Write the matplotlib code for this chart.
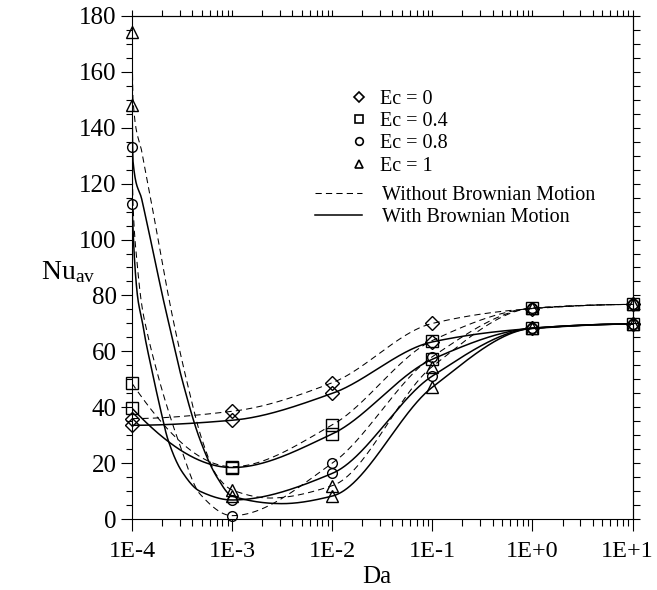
import numpy as np
import matplotlib
matplotlib.use("Agg")
import matplotlib.pyplot as plt
from matplotlib.lines import Line2D
from matplotlib.transforms import ScaledTranslation
from matplotlib.ticker import FixedLocator, MultipleLocator, NullFormatter, NullLocator

plt.rcParams['font.family'] = ['Liberation Serif', 'DejaVu Serif']
plt.rcParams['mathtext.fontset'] = 'custom'
plt.rcParams['mathtext.rm'] = 'Liberation Serif'
plt.rcParams['mathtext.it'] = 'Liberation Serif:italic'

# ---------------- data ----------------
da_ticks = [1e-4, 1e-3, 1e-2, 1e-1, 1e0, 1e1]
da_tick_labels = ['1E-4', '1E-3', '1E-2', '1E-1', '1E+0', '1E+1']
ec_labels = ['Ec = 0', 'Ec = 0.4', 'Ec = 0.8', 'Ec = 1']
ec_markers = ['D', 's', 'o', '^']
line_labels = ['Without Brownian Motion', 'With Brownian Motion']

# marker values at each Da (without / with Brownian motion)
nu_without_ec0 = [36.0, 38.6, 48.8, 70.0, 75.3, 76.8]
nu_with_ec0 = [33.6, 35.4, 45.0, 63.4, 68.2, 69.8]
nu_without_ec04 = [48.6, 18.8, 33.7, 63.9, 75.4, 76.8]
nu_with_ec04 = [39.7, 18.5, 30.5, 57.2, 68.3, 69.8]
nu_without_ec08 = [132.9, 1.3, 20.0, 58.1, 75.5, 76.8]
nu_with_ec08 = [112.7, 6.9, 16.4, 51.2, 68.3, 69.8]
nu_without_ec1 = [174.0, 10.5, 12.0, 54.6, 75.5, 76.8]
nu_with_ec1 = [148.1, 8.3, 8.3, 47.2, 68.3, 69.8]

# curve traces (log10 Da, Nu)
curve_logda_without_ec0 = [-4, -3, -2, -1, 0, 1]
curve_nu_without_ec0 = [36.0, 38.6, 48.8, 70.0, 75.3, 76.8]
curve_logda_with_ec0 = [-4, -3, -2, -1, 0, 1]
curve_nu_with_ec0 = [33.6, 35.4, 45.0, 63.4, 68.2, 69.8]

curve_logda_without_ec04 = [-4, -3, -2, -1, 0, 1]
curve_nu_without_ec04 = [48.6, 18.8, 33.7, 63.9, 75.4, 76.8]
curve_logda_with_ec04 = [-4, -3, -2, -1, 0, 1]
curve_nu_with_ec04 = [39.7, 18.5, 30.5, 57.2, 68.3, 69.8]

curve_logda_without_ec08 = [-4, -3.99, -3.95, -3.90, -3.85, -3.76, -3.67, -3.54, -3.32, -3.0, -2, -1, 0, 1]
curve_nu_without_ec08 = [132.9, 113.0, 92.0, 76.0, 67.0, 54.0, 42.6, 28.4, 9.0, 1.3, 20.0, 58.1, 75.5, 76.8]
curve_logda_with_ec08 = [-4, -3.97, -3.94, -3.90, -3.87, -3.80, -3.72, -3.64, -3.5, -3.32, -3.0, -2, -1, 0, 1]
curve_nu_with_ec08 = [112.7, 90.0, 78.4, 71.2, 65.0, 53.0, 40.0, 28.4, 17.0, 10.0, 6.9, 16.4, 51.2, 68.3, 69.8]

curve_logda_without_ec1 = [-4, -3.99, -3.90, -3.80, -3.70, -3.59, -3.45, -3.30, -3.15, -3.0, -2.62, -2, -1, 0, 1]
curve_nu_without_ec1 = [174.0, 150.0, 131.0, 112.0, 92.0, 71.5, 49.0, 28.4, 15.5, 10.5, 7.6, 12.0, 54.6, 75.5, 76.8]
curve_logda_with_ec1 = [-4, -3.99, -3.90, -3.80, -3.69, -3.64, -3.50, -3.32, -3.15, -3.0, -2.5, -2, -1, 0, 1]
curve_nu_with_ec1 = [148.1, 128.0, 114.0, 97.5, 79.0, 71.2, 50.0, 28.4, 15.0, 8.3, 5.6, 8.3, 47.2, 68.3, 69.8]


def pchip(x, y, xn):
    x = np.asarray(x, float)
    y = np.asarray(y, float)
    h = np.diff(x)
    d = np.diff(y) / h
    n = len(x)
    m = np.zeros(n)
    for k in range(1, n - 1):
        if d[k - 1] * d[k] > 0:
            w1 = 2 * h[k] + h[k - 1]
            w2 = h[k] + 2 * h[k - 1]
            m[k] = (w1 + w2) / (w1 / d[k - 1] + w2 / d[k])

    def end(h0, h1, d0, d1):
        s = ((2 * h0 + h1) * d0 - h0 * d1) / (h0 + h1)
        if np.sign(s) != np.sign(d0):
            s = 0.0
        elif np.sign(d0) != np.sign(d1) and abs(s) > abs(3 * d0):
            s = 3 * d0
        return s

    m[0] = end(h[0], h[1], d[0], d[1])
    m[-1] = end(h[-1], h[-2], d[-1], d[-2])
    idx = np.clip(np.searchsorted(x, xn) - 1, 0, n - 2)
    t = (xn - x[idx]) / h[idx]
    h00 = 2 * t**3 - 3 * t**2 + 1
    h10 = t**3 - 2 * t**2 + t
    h01 = -2 * t**3 + 3 * t**2
    h11 = t**3 - t**2
    return (h00 * y[idx] + h10 * h[idx] * m[idx] + h01 * y[idx + 1] + h11 * h[idx] * m[idx + 1])


markers_without = [nu_without_ec0, nu_without_ec04, nu_without_ec08, nu_without_ec1]
markers_with = [nu_with_ec0, nu_with_ec04, nu_with_ec08, nu_with_ec1]
curves_without = [(curve_logda_without_ec0, curve_nu_without_ec0),
                  (curve_logda_without_ec04, curve_nu_without_ec04),
                  (curve_logda_without_ec08, curve_nu_without_ec08),
                  (curve_logda_without_ec1, curve_nu_without_ec1)]
curves_with = [(curve_logda_with_ec0, curve_nu_with_ec0),
               (curve_logda_with_ec04, curve_nu_with_ec04),
               (curve_logda_with_ec08, curve_nu_with_ec08),
               (curve_logda_with_ec1, curve_nu_with_ec1)]

W, H = 657, 590
fig = plt.figure(figsize=(W / 100, H / 100), dpi=100)
x0, x1, y0, y1 = 132, 632.5, 519.3, 15.7
ax = fig.add_axes([x0 / W, (H - y0) / H, (x1 - x0) / W, (y0 - y1) / H])
ax.set_xscale('log')
ax.set_xlim(1e-4, 1e1)
ax.set_ylim(0, 180)

dash = (0, (6, 4))
for (lx, ly) in curves_without:
    xs = np.linspace(lx[0], lx[-1], 1500)
    ax.plot(10**xs, pchip(lx, ly, xs), color='black', lw=0.75, linestyle=dash)
for (lx, ly) in curves_with:
    xs = np.linspace(lx[0], lx[-1], 1500)
    ax.plot(10**xs, pchip(lx, ly, xs), color='black', lw=1.1, linestyle='-')

msizes = {'D': 7.5, 's': 8.5, 'o': 7.0, '^': 8.5}
for mk, a, b in zip(ec_markers, markers_without, markers_with):
    for vals in (a, b):
        ax.plot(da_ticks, vals, linestyle='none', marker=mk, ms=msizes[mk],
                mfc='none', mec='black', mew=1.0, zorder=5, clip_on=False)

# axes / ticks
for sp in ax.spines.values():
    sp.set_linewidth(0.8)
ax.xaxis.set_major_locator(FixedLocator(da_ticks))
ax.set_xticklabels(da_tick_labels)
minor_x = [m * 10.0**e for e in range(-4, 1) for m in range(2, 10)]
ax.xaxis.set_minor_locator(FixedLocator(minor_x))
ax.xaxis.set_minor_formatter(NullFormatter())
ax.yaxis.set_major_locator(MultipleLocator(20))
ax.yaxis.set_minor_locator(MultipleLocator(5))
ax.tick_params(axis='x', which='major', direction='out', length=8.5, width=0.8,
               pad=7, labelsize=17.5)
ax.tick_params(axis='x', which='minor', direction='out', length=5, width=0.8)
ax.tick_params(axis='y', which='major', direction='out', length=8, width=0.8,
               pad=3, labelsize=18)
ax.tick_params(axis='y', which='minor', direction='out', length=4.5, width=0.8)
last = ax.get_xticklabels()[-1]
last.set_transform(last.get_transform() + ScaledTranslation(-5 / 100, 0, fig.dpi_scale_trans))

secx = ax.secondary_xaxis('top')
secx.xaxis.set_major_locator(FixedLocator(da_ticks))
secx.xaxis.set_minor_locator(FixedLocator(minor_x))
secx.xaxis.set_major_formatter(NullFormatter())
secx.xaxis.set_minor_formatter(NullFormatter())
secx.tick_params(which='both', direction='out', length=4, width=0.8)
secx.spines['top'].set_linewidth(0.8)

secy = ax.secondary_yaxis('right')
secy.yaxis.set_major_locator(MultipleLocator(5))
secy.yaxis.set_minor_locator(NullLocator())
secy.yaxis.set_major_formatter(NullFormatter())
secy.tick_params(which='both', direction='out', length=5, width=0.8)
secy.spines['right'].set_linewidth(0.8)

ax.set_xlabel('Da', fontsize=18)
ax.xaxis.set_label_coords(0.49, -0.093)
ax.set_ylabel(r'$\mathregular{Nu_{av}}$', fontsize=20, rotation=0, va='center', ha='center')
ax.yaxis.set_label_coords(-0.128, 0.49)

# legends
fs = 14.5
fpx = fs * 100 / 72
h_mk = [Line2D([], [], linestyle='none', marker=m, ms=5.5, mfc='none', mec='black', mew=1.2)
        for m in ec_markers]
leg1 = ax.legend(h_mk, ec_labels, loc='upper left',
                 bbox_to_anchor=(348.5 / W, (H - 89.5) / H), bbox_transform=fig.transFigure,
                 frameon=False, fontsize=fs, handlelength=1.0, handletextpad=0.57,
                 labelspacing=0.16, borderpad=0, borderaxespad=0)
ax.add_artist(leg1)
h_ln = [Line2D([], [], color='black', lw=0.75, linestyle=dash),
        Line2D([], [], color='black', lw=1.1, linestyle='-')]
ax.legend(h_ln, line_labels, loc='upper left',
          bbox_to_anchor=(315 / W, (H - 185.5) / H), bbox_transform=fig.transFigure,
          frameon=False, fontsize=fs, handlelength=47 / fpx, handletextpad=20 / fpx,
          labelspacing=0.16, borderpad=0, borderaxespad=0)

fig.savefig('out.png', dpi=100)
